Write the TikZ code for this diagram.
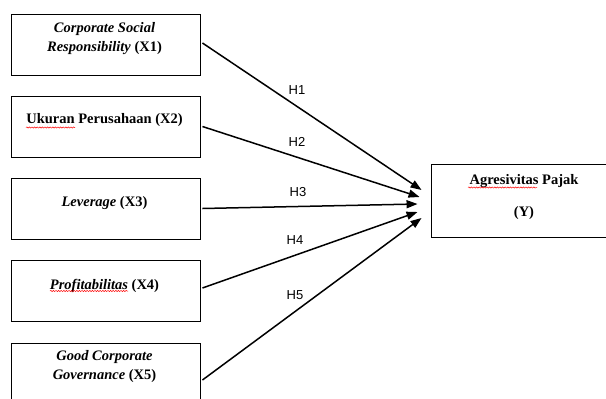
\documentclass[tikz,border=0pt]{standalone}
\usepackage{fontspec}
\setmainfont{Liberation Serif}
\setsansfont{Liberation Sans}
\usetikzlibrary{arrows.meta,decorations.pathmorphing}

\begin{document}
\begin{tikzpicture}[x=1pt,y=-1pt,
		box/.style={draw, line width=0.9pt, minimum width=189pt, minimum height=61pt},
		txt/.style={font=\fontsize{14.5}{19}\selectfont\bfseries, align=center, inner sep=0pt},
		link/.style={line width=1.5pt, -{Triangle[length=11pt,width=8pt]}},
		hyp/.style={font=\sffamily\fontsize{13}{15}\selectfont, inner sep=0pt},
		typo/.style={red, line width=0.5pt, decorate, decoration={snake, amplitude=0.6pt, segment length=2.6pt}}]
		\clip (0,0) rectangle (606,399);
		% variables
		\node[box] (x1) at (105.5,44.5) {};
		\node[box] (x2) at (105.5,126.5) {};
		\node[box] (x3) at (105.5,208.5) {};
		\node[box] (x4) at (105.5,291) {};
		\node[box] (x5) at (105.5,373.5) {};
		\node[box, minimum width=186pt, minimum height=73pt] (y) at (524,200.5) {};
		\node[txt] (t1) at (104.5,38.5) {\textit{Corporate Social}\\\textit{Responsibility} (X1)};
		\node[txt] (t2) at (104.5,120) {Ukuran Perusahaan (X2)};
		\node[txt] (t3) at (104.5,203) {\textit{Leverage} (X3)};
		\node[txt] (t4) at (104.5,286) {\textit{Profitabilitas} (X4)};
		\node[txt] (t5) at (104.5,366.5) {\textit{Good Corporate}\\\textit{Governance} (X5)};
		\node[txt] (ty) at (524,197) {Agresivitas Pajak\\[13pt](Y)};
		% spelling marks
		\draw[typo] (26,127.5) -- (75,127.5);
		\draw[typo] (50,291) -- (128,291);
		\draw[typo] (468,187.5) -- (537,187.5);
		% hypotheses
		\coordinate (e1) at ([xshift=-9pt,yshift=10.5pt]y.west);
		\coordinate (e2) at ([xshift=-11pt,yshift=3.5pt]y.west);
		\coordinate (e3) at ([xshift=-13pt,yshift=-3.5pt]y.west);
		\coordinate (e4) at ([xshift=-13pt,yshift=-11.5pt]y.west);
		\coordinate (e5) at ([xshift=-9pt,yshift=-17.5pt]y.west);
		\draw[link] ([xshift=2pt,yshift=1.5pt]x1.east) -- (e1);
		\draw[link] ([xshift=2pt]x2.east) -- (e2);
		\draw[link] ([xshift=2pt]x3.east) -- (e3);
		\draw[link] ([xshift=2pt,yshift=3pt]x4.east) -- (e4);
		\draw[link] ([xshift=2pt,yshift=-6.5pt]x5.east) -- (e5);
		\node[hyp] (h1) at (297,90) {H1};
		\node[hyp] (h2) at (297,142) {H2};
		\node[hyp] (h3) at (298,192) {H3};
		\node[hyp] (h4) at (295,240) {H4};
		\node[hyp] (h5) at (295,295) {H5};
	\end{tikzpicture}
\end{document}
